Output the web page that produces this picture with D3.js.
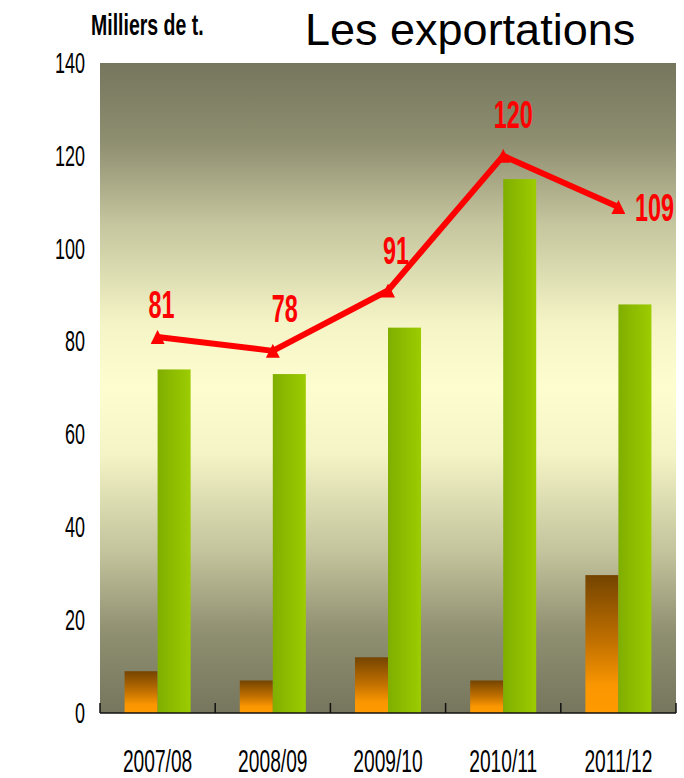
<!DOCTYPE html>
<html>
<head>
  <title>Les exportations</title>
  <script src="https://d3js.org/d3.v7.min.js"></script>
  <style>
    body { margin: 0; background: #fff; }
    text { font-family: "Liberation Sans", Arial, sans-serif; }
  </style>
</head>
<body>
  <svg width="684" height="778"></svg>
  <script>
    // values (milliers de tonnes)
    var campaigns = ["2007/08", "2008/09", "2009/10", "2010/11", "2011/12"];
    var orangeValues = [9, 7, 12, 7, 29.7];
    var greenValues = [74, 73, 83, 115, 88];
    var lineValues = [81, 78, 91, 120, 109];
    var yTicks = [0, 20, 40, 60, 80, 100, 120, 140];

    var svg = d3.select("svg"),
        margin = {top: 63, right: 8, bottom: 65, left: 100},
        width = +svg.attr("width") - margin.left - margin.right,
        height = +svg.attr("height") - margin.top - margin.bottom;

    var x = d3.scaleBand().domain(campaigns).range([0, width]).padding(0);
    var xs = d3.scaleBand().domain(["orange", "green"]).range([0, x.bandwidth()])
        .paddingInner(0).paddingOuter(0.745);
    var y = d3.scaleLinear().domain([0, 140]).range([height, 0]);

    // narrow text: the chart uses a squeezed sans
    function tr(px, py, sx) {
      return "translate(" + px + "," + py + ") scale(" + sx + ",1)";
    }

    var defs = svg.append("defs");

    var bg = defs.append("linearGradient").attr("id", "bg")
        .attr("x1", 0).attr("y1", 0).attr("x2", 0).attr("y2", 1);
    [[0, "#76765e"], [0.12, "#8e8e70"], [0.25, "#c6c69f"], [0.4, "#f4f4c6"], [0.5, "#fdfdd0"],
     [0.6, "#f4f4c6"], [0.75, "#c4c49d"], [0.88, "#8e8e70"], [1, "#76765e"]].forEach(function(s) {
      bg.append("stop").attr("offset", s[0]).attr("stop-color", s[1]);
    });

    var og = defs.append("linearGradient").attr("id", "orangeGrad")
        .attr("x1", 0).attr("y1", 0).attr("x2", 0).attr("y2", 1);
    [[0, "#744400"], [0.5, "#c47200"], [0.8, "#fa9600"], [1, "#ff9a00"]].forEach(function(s) {
      og.append("stop").attr("offset", s[0]).attr("stop-color", s[1]);
    });

    var gg = defs.append("linearGradient").attr("id", "greenGrad")
        .attr("x1", 0).attr("y1", 0).attr("x2", 1).attr("y2", 0);
    [[0, "#80ae00"], [1, "#9ccc00"]].forEach(function(s) {
      gg.append("stop").attr("offset", s[0]).attr("stop-color", s[1]);
    });

    defs.append("marker").attr("id", "tri")
        .attr("viewBox", "0 0 10 10").attr("refX", 5).attr("refY", 5)
        .attr("markerWidth", 14).attr("markerHeight", 14)
        .attr("markerUnits", "userSpaceOnUse")
      .append("path").attr("d", "M5,0L10,10L0,10Z").attr("fill", "#ff0000");

    var g = svg.append("g")
        .attr("transform", "translate(" + margin.left + "," + margin.top + ")");

    g.append("rect").attr("width", width).attr("height", height).attr("fill", "url(#bg)");

    g.selectAll(".bar-o")
      .data(orangeValues)
      .enter().append("rect")
      .attr("class", "bar-o")
      .attr("x", function(d, i) { return x(campaigns[i]) + xs("orange"); })
      .attr("y", function(d) { return y(d); })
      .attr("width", xs.bandwidth())
      .attr("height", function(d) { return height - y(d); })
      .attr("fill", "url(#orangeGrad)");

    g.selectAll(".bar-g")
      .data(greenValues)
      .enter().append("rect")
      .attr("class", "bar-g")
      .attr("x", function(d, i) { return x(campaigns[i]) + xs("green"); })
      .attr("y", function(d) { return y(d); })
      .attr("width", xs.bandwidth())
      .attr("height", function(d) { return height - y(d); })
      .attr("fill", "url(#greenGrad)");

    // x axis: line with upward ticks at category boundaries, labels below
    g.append("line").attr("x1", 0).attr("x2", width).attr("y1", height).attr("y2", height)
        .attr("stroke", "#111").attr("stroke-width", 1.5);
    g.selectAll(".xtick")
      .data(campaigns.concat([null]))
      .enter().append("line")
      .attr("x1", function(d, i) { return i * x.step(); })
      .attr("x2", function(d, i) { return i * x.step(); })
      .attr("y1", height - 10).attr("y2", height)
      .attr("stroke", "#111").attr("stroke-width", 1.5);
    g.selectAll(".xlab")
      .data(campaigns)
      .enter().append("text")
      .attr("transform", function(d) { return tr(x(d) + x.bandwidth() / 2, height + 59, 0.6); })
      .attr("text-anchor", "middle")
      .attr("font-size", 32)
      .attr("fill", "#000")
      .text(function(d) { return d; });

    g.selectAll(".ylab")
      .data(yTicks)
      .enter().append("text")
      .attr("transform", function(d) { return tr(-15, y(d) - 1, 0.6); })
      .attr("dy", "0.36em")
      .attr("text-anchor", "end")
      .attr("font-size", 30)
      .attr("fill", "#000")
      .text(function(d) { return d; });

    var line = d3.line()
        .x(function(d, i) { return x(campaigns[i]) + x.bandwidth() / 2; })
        .y(function(d) { return y(d); });

    g.append("path")
      .datum(lineValues)
      .attr("d", line)
      .attr("fill", "none")
      .attr("stroke", "#ff0000")
      .attr("stroke-width", 6)
      .attr("stroke-linejoin", "round")
      .attr("marker-start", "url(#tri)")
      .attr("marker-mid", "url(#tri)")
      .attr("marker-end", "url(#tri)");

    var labelShift = [[4, -19], [12, -29], [8, -27], [10, -28], [36, 14]];
    g.selectAll(".vlab")
      .data(lineValues)
      .enter().append("text")
      .attr("transform", function(d, i) {
        var cx = x(campaigns[i]) + x.bandwidth() / 2;
        return tr(cx + labelShift[i][0], y(d) + labelShift[i][1], 0.6);
      })
      .attr("text-anchor", "middle")
      .attr("font-size", 39)
      .attr("font-weight", "bold")
      .attr("fill", "#ff0000")
      .text(function(d) { return d; });

    svg.append("text")
      .attr("transform", tr(91, 35, 0.65))
      .attr("font-size", 30)
      .attr("font-weight", "bold")
      .attr("fill", "#000")
      .text("Milliers de t.");

    svg.append("text")
      .attr("x", 305).attr("y", 45)
      .attr("font-size", 45)
      .attr("fill", "#000")
      .text("Les exportations");
  </script>
</body>
</html>
